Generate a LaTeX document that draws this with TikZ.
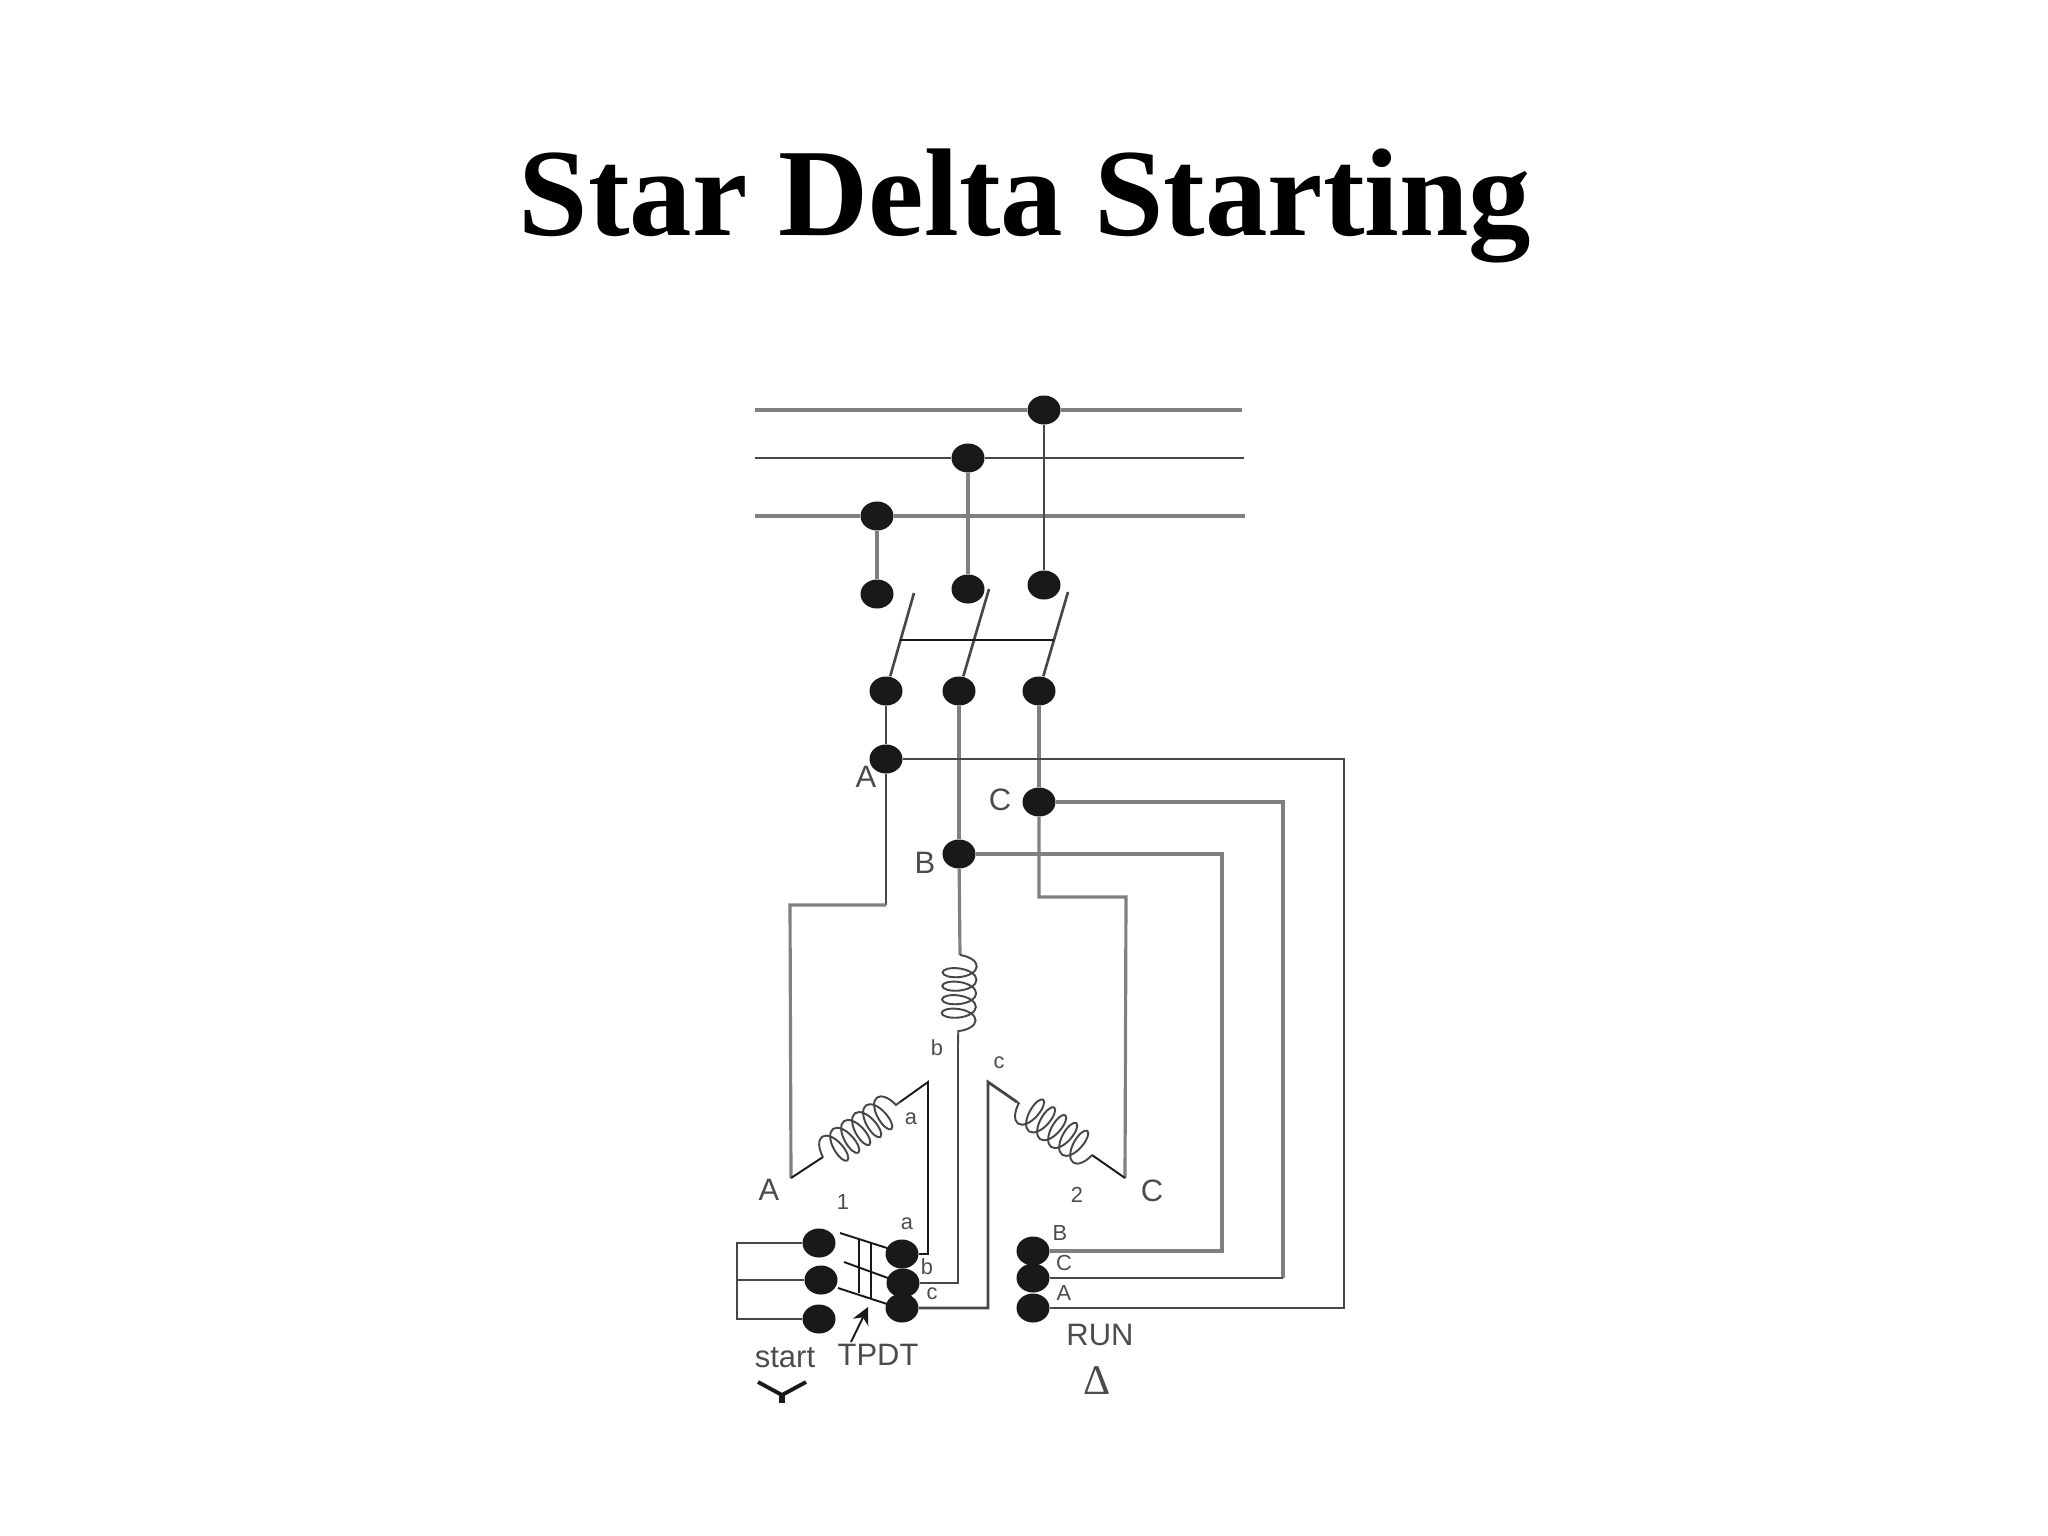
\documentclass[tikz,border=0pt]{standalone}
\usepackage{amsmath}
\usepackage{fontspec}
\usepackage{tikz}
\usetikzlibrary{shapes.geometric,decorations.pathmorphing,arrows.meta}
\setmainfont{Liberation Sans}
\newfontfamily\titlefont{Liberation Serif}
\definecolor{inkdot}{gray}{0.1}
\definecolor{inkwire}{gray}{0.28}
\definecolor{inkpale}{gray}{0.5}
\definecolor{inktext}{gray}{0.3}
\tikzset{
  dot/.style={draw=none, fill=inkdot, ellipse, inner sep=0pt, minimum width=0.33cm, minimum height=0.29cm},
  wire/.style={draw=inkwire, line width=0.8pt},
  palewire/.style={draw=inkpale, line width=0.9pt},
  thinwire/.style={draw=inkdot, line width=0.55pt},
  blade/.style={draw=inkwire, line width=0.75pt},
  winding/.style={draw=inkwire, line width=0.55pt, decorate, decoration={coil, aspect=0.45, segment length=0.135cm, amplitude=0.17cm}},
  biglabel/.style={text=inktext, font=\fontsize{8.8}{10}\selectfont, inner sep=0pt},
  smalllabel/.style={text=inktext, font=\fontsize{6.2}{7}\selectfont, inner sep=0pt}
}
\begin{document}
\begin{tikzpicture}[x=0.01cm, y=-0.01cm]
\useasboundingbox (0,0) rectangle (2048,1536);
\node[font=\titlefont\bfseries\fontsize{35.5}{40}\selectfont, anchor=base, inner sep=0pt](Title) at (1025,235) {Star Delta Starting};

\coordinate (BL1) at (755,410);
\coordinate (BR1) at (1242,410);
\coordinate (BL2) at (755,458);
\coordinate (BR2) at (1244,458);
\coordinate (BL3) at (755,516);
\coordinate (BR3) at (1245,516);

\node[dot](T1) at (877,516) {};
\node[dot](T2) at (968,458) {};
\node[dot](T3) at (1044,410) {};
\node[dot](U1) at (877,594) {};
\node[dot](U2) at (968,589) {};
\node[dot](U3) at (1044,585) {};
\node[dot](V1) at (886,691) {};
\node[dot](V2) at (959,691) {};
\node[dot](V3) at (1039,691) {};
\node[dot](JA) at (886,759) {};
\node[dot](JB) at (959,854) {};
\node[dot](JC) at (1039,802) {};

\node[dot](S1) at (819,1243) {};
\node[dot](S2) at (821,1280) {};
\node[dot](S3) at (819,1319) {};
\node[dot](M1) at (902,1254) {};
\node[dot](M3) at (902,1308) {};
\node[dot](M2) at (903,1283) {};
\node[dot](R1) at (1033,1251) {};
\node[dot](R2) at (1033,1278) {};
\node[dot](R3) at (1033,1308) {};

\draw[palewire](BL1) to (T3);
\draw[palewire](T3) to (BR1);
\draw[wire](BL2) to (T2);
\draw[wire](T2) to (BR2);
\draw[palewire](BL3) to (T1);
\draw[palewire](T1) to (BR3);
\draw[palewire](T1) to (U1);
\draw[palewire](T2) to (U2);
\draw[wire](T3) to (U3);

\coordinate (K1) at (914,593);
\coordinate (K2) at (989,589);
\coordinate (K3) at (1068,592);
\coordinate (KL) at (900,640);
\coordinate (KR) at (1054,640);
\draw[blade](V1) to (K1);
\draw[blade](V2) to (K2);
\draw[blade](V3) to (K3);
\draw[thinwire](KL) to (KR);

\draw[wire](V1) to (JA);
\draw[palewire](V2) to (JB);
\draw[palewire](V3) to (JC);

\coordinate (A1) at (1344,759);
\coordinate (A2) at (1344,1308);
\coordinate (C1) at (1283,802);
\coordinate (C2) at (1283,1278);
\coordinate (B1) at (1222,854);
\coordinate (B2) at (1222,1251);
\draw[wire](JA) -- (A1) -- (A2) -- (R3);
\draw[palewire](JC) -- (C1) -- (C2);
\draw[wire](C2) -- (R2);
\draw[palewire](JB) -- (B1) -- (B2) -- (R1);

\coordinate (A3) at (886,905);
\coordinate (A4) at (790,905);
\coordinate (A5) at (791,1178);
\coordinate (A6) at (823,1157);
\coordinate (A7) at (900,1102);
\coordinate (A8) at (928,1082);
\coordinate (A9) at (928,1254);
\draw[wire](JA) -- (A3);
\draw[palewire](A3) -- (A4) -- (A5);
\draw[thinwire](A5) to (A6);
\draw[winding](A6) to (A7);
\draw[thinwire](A7) -- (A8) -- (A9) -- (M1);

\coordinate (B3) at (960,955);
\coordinate (B4) at (958,1044);
\coordinate (B5) at (958,1283);
\draw[palewire](JB) to (B3);
\draw[winding](B3) to (B4);
\draw[wire](B4) -- (B5) -- (M2);

\coordinate (C3) at (1039,897);
\coordinate (C4) at (1126,897);
\coordinate (C5) at (1125,1178);
\coordinate (C6) at (1092,1155);
\coordinate (C7) at (1017,1102);
\coordinate (C8) at (988,1082);
\coordinate (C9) at (988,1308);
\draw[palewire](JC) -- (C3) -- (C4) -- (C5);
\draw[thinwire](C5) to (C6);
\draw[winding](C6) to (C7);
\draw[wire](C7) -- (C8) -- (C9) -- (M3);

\coordinate (L1) at (737,1243);
\coordinate (L2) at (737,1280);
\coordinate (L3) at (737,1319);
\draw[wire](S1) -- (L1) -- (L3) -- (S3);
\draw[wire](L2) to (S2);

\coordinate (P1) at (840,1233);
\coordinate (P2) at (887,1248);
\coordinate (P3) at (844,1262);
\coordinate (P4) at (888,1278);
\coordinate (P5) at (838,1288);
\coordinate (P6) at (887,1304);
\draw[thinwire](P1) to (P2);
\draw[thinwire](P3) to (P4);
\draw[thinwire](P5) to (P6);
\coordinate (Q1) at (859,1238);
\coordinate (Q2) at (859,1293);
\coordinate (Q3) at (871,1243);
\coordinate (Q4) at (871,1298);
\draw[thinwire](Q1) to (Q2);
\draw[thinwire](Q3) to (Q4);

\node[biglabel](LabA) at (866,777) {A};
\node[biglabel](LabC) at (1000,800) {C};
\node[biglabel](LabB) at (925,863) {B};
\node[biglabel](LabA2) at (769,1190) {A};
\node[biglabel](LabC2) at (1152,1191) {C};
\node[smalllabel](Laba) at (911,1119) {a};
\node[smalllabel](Labb) at (937,1048) {b};
\node[smalllabel](Labc) at (999,1063) {c};
\node[smalllabel](Lab1) at (843,1202) {1};
\node[smalllabel](Lab2) at (1077,1195) {2};
\node[smalllabel](Laba2) at (907,1224) {a};
\node[smalllabel](Labb2) at (927,1267) {b};
\node[smalllabel](Labc2) at (932,1294) {c};
\node[smalllabel](LabRB) at (1060,1233) {B};
\node[smalllabel](LabRC) at (1064,1263) {C};
\node[smalllabel](LabRA) at (1064,1293) {A};
\node[biglabel](Start) at (785,1358) {start};
\node[biglabel](Tpdt) at (878,1355) {TPDT};
\node[biglabel](Run) at (1100,1335) {RUN};
\node[text=inktext, font=\titlefont\fontsize{12}{13}\selectfont, inner sep=0pt](Delta) at (1097,1381) {Δ};

\coordinate (TipEnd) at (868,1307);
\coordinate (TipStart) at (851,1342);
\draw[thinwire, -{Stealth[length=0.17cm, width=0.17cm]}](TipStart) to (TipEnd);

\coordinate (Y1) at (758,1382);
\coordinate (Y2) at (782,1395);
\coordinate (Y3) at (806,1382);
\coordinate (Y4) at (782,1403);
\draw[draw=inkdot, line width=1.1pt](Y1) -- (Y2) -- (Y3);
\draw[draw=inkdot, line width=1.9pt](Y2) to (Y4);
\end{tikzpicture}
\end{document}
